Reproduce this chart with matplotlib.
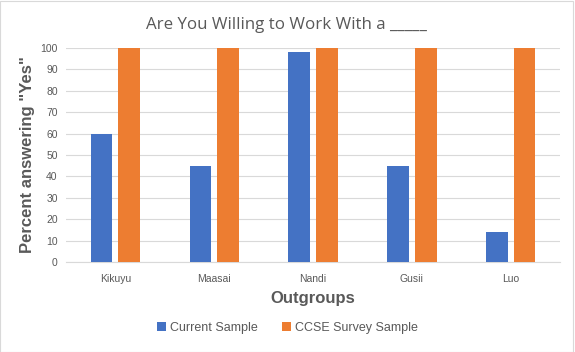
import numpy as np
import matplotlib
matplotlib.use("Agg")
import matplotlib.pyplot as plt

groups = ["Kikuyu", "Maasai", "Nandi", "Gusii", "Luo"]
current = [60, 45, 98, 45, 14]
ccse = [100, 100, 100, 100, 100]

BLUE = "#4472C4"
ORANGE = "#ED7D31"
TEXT = "#595959"
GRID = "#D9D9D9"

plt.rcParams["font.family"] = ["Liberation Sans", "DejaVu Sans"]

fig = plt.figure(figsize=(5.75, 3.52), dpi=100)
ax = fig.add_axes([0.1148, 0.2557, 0.8592, 0.608])

x = np.arange(len(groups))
w = 0.22
ax.bar(x - 0.14, current, w, color=BLUE, label="Current Sample", zorder=3)
ax.bar(x + 0.14, ccse, w, color=ORANGE, label="CCSE Survey Sample", zorder=3)

ax.set_xlim(-0.5, len(groups) - 0.5)
ax.set_ylim(0, 100)
ax.set_yticks(range(0, 101, 10))
ax.set_xticks(x)
ax.set_xticklabels(groups)
ax.tick_params(axis="both", length=0, labelsize=7.5, colors=TEXT, pad=6)
ax.tick_params(axis="x", pad=9)
ax.grid(axis="y", color=GRID, linewidth=0.8, zorder=0)
for s in ("top", "right", "left"):
    ax.spines[s].set_visible(False)
ax.spines["bottom"].set_color(GRID)

fig.text(0.498, 0.928, "Are You Willing to Work With a _____", ha="center", va="center",
         fontsize=12.2, color=TEXT, family=["Open Sans", "DejaVu Sans"])
ax.set_ylabel('Percent answering "Yes"', fontsize=12, fontweight="bold", color=TEXT, labelpad=4)
ax.set_xlabel("Outgroups", fontsize=12, fontweight="bold", color=TEXT, labelpad=5)

fig.legend(loc="center", bbox_to_anchor=(0.5, 0.068), ncol=2, frameon=False,
           fontsize=9, labelcolor=TEXT, handlelength=0.7, handleheight=0.7,
           handletextpad=0.3, columnspacing=2.0)

# thin chart-area border like the source
fig.patches.append(plt.Rectangle((0, 0), 0.997, 0.997, transform=fig.transFigure,
                                 fill=False, edgecolor="#D9D9D9", linewidth=0.8))

fig.savefig("out.png", dpi=100)
